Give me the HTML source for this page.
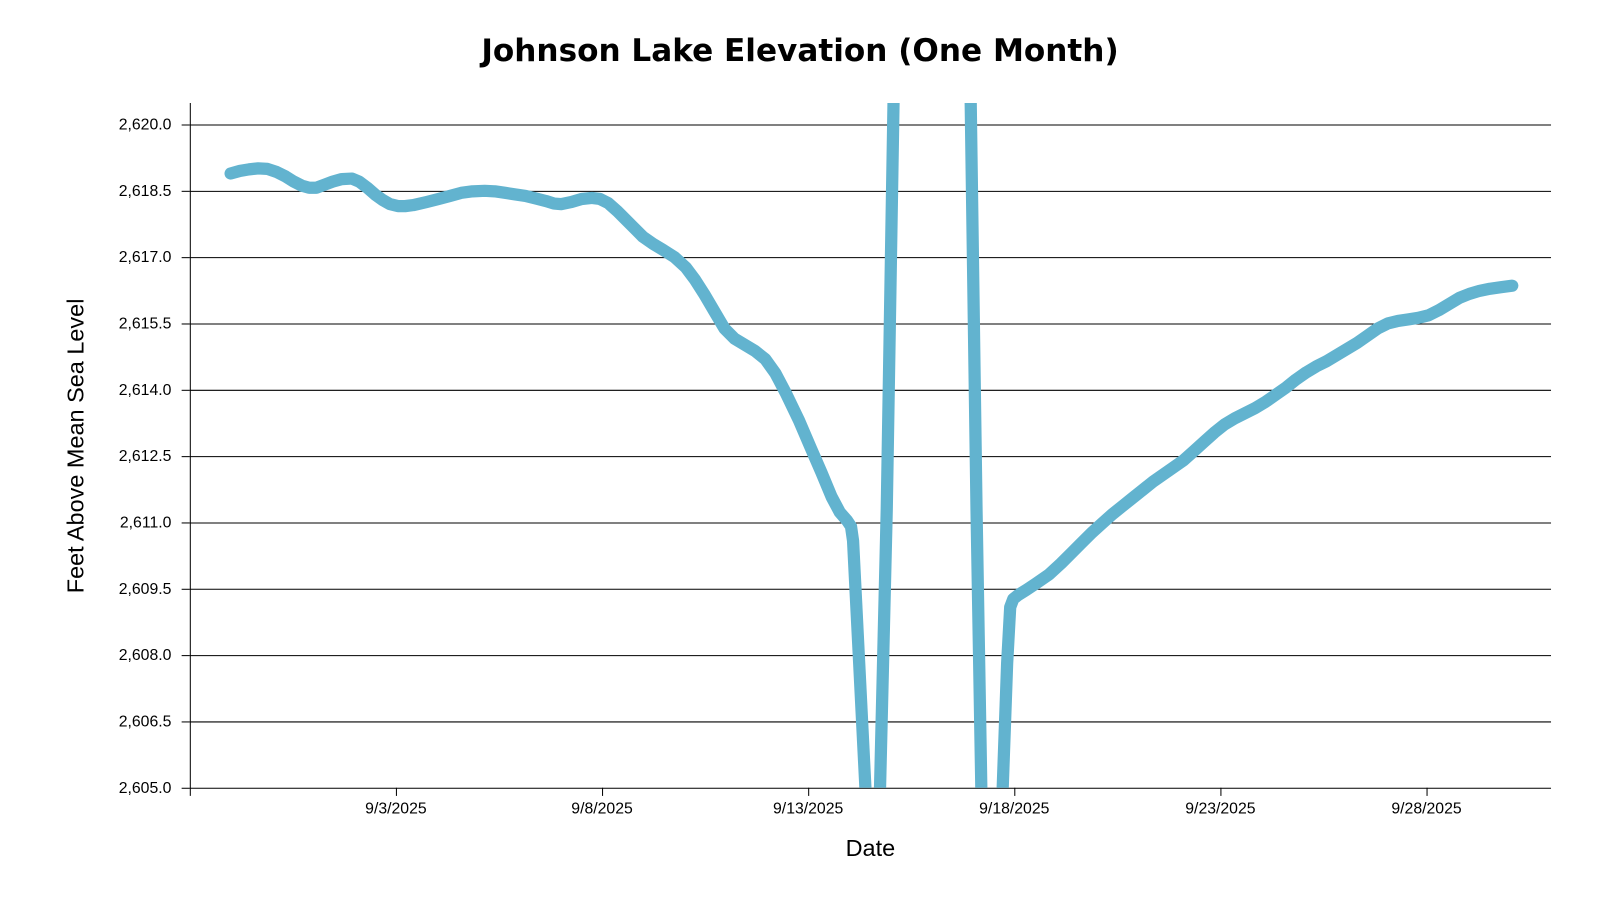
<!DOCTYPE html>
<html><head><meta charset="utf-8"><style>
html,body{margin:0;padding:0;background:#fff;}
svg text{font-family:"Liberation Sans",Arial,sans-serif;}
</style></head><body>
<svg width="1600" height="900" viewBox="0 0 1568 882" xmlns="http://www.w3.org/2000/svg">
<defs><clipPath id="c"><rect x="186" y="101" width="1334" height="671"/></clipPath></defs>
<text x="784" y="60" text-anchor="middle" font-size="30.5" font-weight="bold" fill="#000" style="font-family:'DejaVu Sans',sans-serif">Johnson Lake Elevation (One Month)</text>
<g stroke="#000" stroke-width="1">
<line x1="186" y1="122.5" x2="1520" y2="122.5"/>
<line x1="186" y1="187.5" x2="1520" y2="187.5"/>
<line x1="186" y1="252.5" x2="1520" y2="252.5"/>
<line x1="186" y1="317.5" x2="1520" y2="317.5"/>
<line x1="186" y1="382.5" x2="1520" y2="382.5"/>
<line x1="186" y1="447.5" x2="1520" y2="447.5"/>
<line x1="186" y1="512.5" x2="1520" y2="512.5"/>
<line x1="186" y1="577.5" x2="1520" y2="577.5"/>
<line x1="186" y1="642.5" x2="1520" y2="642.5"/>
<line x1="186" y1="707.5" x2="1520" y2="707.5"/>
<line x1="186" y1="772.5" x2="1520" y2="772.5"/>
<line x1="186.5" y1="101" x2="186.5" y2="780"/>
<line x1="388.5" y1="772" x2="388.5" y2="780"/>
<line x1="590.5" y1="772" x2="590.5" y2="780"/>
<line x1="792.5" y1="772" x2="792.5" y2="780"/>
<line x1="994.5" y1="772" x2="994.5" y2="780"/>
<line x1="1196.5" y1="772" x2="1196.5" y2="780"/>
<line x1="1398.5" y1="772" x2="1398.5" y2="780"/>
<line x1="178" y1="122.5" x2="186" y2="122.5"/><line x1="178" y1="187.5" x2="186" y2="187.5"/>
<line x1="178" y1="252.5" x2="186" y2="252.5"/><line x1="178" y1="317.5" x2="186" y2="317.5"/>
<line x1="178" y1="382.5" x2="186" y2="382.5"/><line x1="178" y1="447.5" x2="186" y2="447.5"/>
<line x1="178" y1="512.5" x2="186" y2="512.5"/><line x1="178" y1="577.5" x2="186" y2="577.5"/>
<line x1="178" y1="642.5" x2="186" y2="642.5"/><line x1="178" y1="707.5" x2="186" y2="707.5"/>
<line x1="178" y1="772.5" x2="186" y2="772.5"/>
</g>
<g font-size="15.5" fill="#000" text-anchor="end">
<text x="168" y="127">2,620.0</text><text x="168" y="192">2,618.5</text>
<text x="168" y="257">2,617.0</text><text x="168" y="322">2,615.5</text>
<text x="168" y="387">2,614.0</text><text x="168" y="452">2,612.5</text>
<text x="168" y="517">2,611.0</text><text x="168" y="582">2,609.5</text>
<text x="168" y="647">2,608.0</text><text x="168" y="712">2,606.5</text>
<text x="168" y="777">2,605.0</text>
</g>
<g font-size="15.5" fill="#000" text-anchor="middle">
<text x="388" y="797">9/3/2025</text><text x="590" y="797">9/8/2025</text>
<text x="792" y="797">9/13/2025</text><text x="994" y="797">9/18/2025</text>
<text x="1196" y="797">9/23/2025</text><text x="1398" y="797">9/28/2025</text>
</g>
<text x="853" y="839" text-anchor="middle" font-size="23">Date</text>
<text transform="translate(82,437) rotate(-90)" text-anchor="middle" font-size="23">Feet Above Mean Sea Level</text>
<g clip-path="url(#c)">
<polyline fill="none" stroke="#62b3cf" stroke-width="12" stroke-linejoin="round" stroke-linecap="round"
points="226,170 235,167.5 244,166 253,165 262,165.5 271,168.5 280,173 288,178 296,182 303,184 310,184 318,181 326,178 335,175.5 345,175 352,178 360,184 368,191 375,196 382,200 390,202 397,202 405,201 418,198 430,195 441,192 452,189 463,187.5 475,187 485,187.5 495,189 505,190.5 515,192 525,194.5 535,197 543,199.5 550,200 560,198 570,195 580,194 588,195 596,199 605,207 617,219 630,232 640,239 650,245 661,252 672,262 681,274 690,288 700,305 710,322 720,332 730,338 740,344 750,352 760,366 770,385 783,412 795,440 805,463 815,487 823,502 830,510 834,516 836,530 849,790 862,790 869,500 876,80 951,80 957,500 962,790 982,790 987,650 990,595 993,587 998,583 1006,578 1015,572 1028,563 1040,552 1050,542 1060,532 1070,522 1080,513 1090,504 1100,496 1110,488 1120,480 1130,472 1140,465 1150,458 1160,451 1170,442 1180,433 1190,424 1200,416 1210,410 1220,405 1230,400 1240,394 1250,387 1260,380 1270,372 1280,365 1290,359 1300,354 1310,348 1320,342 1330,336 1340,329 1350,322 1360,317 1370,314.5 1380,313 1390,311.5 1400,309 1410,304 1420,298 1430,292 1440,288 1450,285 1460,283 1471,281.5 1482,280"/>
</g>
</svg>
</body></html>
